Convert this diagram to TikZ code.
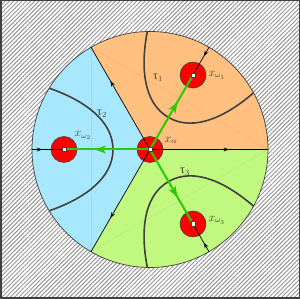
\documentclass[tikz,border=0pt]{standalone}
\usepackage{fontspec}
\newfontfamily\grkfont{Liberation Serif}
\usetikzlibrary{arrows.meta,decorations.markings,patterns.meta}
\definecolor{secorange}{RGB}{255,192,128}
\definecolor{secblue}{RGB}{168,232,255}
\definecolor{secgreen}{RGB}{192,248,128}
\definecolor{inkgray}{RGB}{64,64,64}
\definecolor{flowgreen}{RGB}{40,204,0}
\definecolor{hatchgray}{RGB}{150,150,150}

\begin{document}
\begin{tikzpicture}[x=1pt,y=1pt,
  chord/.style={draw=#1!80!black,draw opacity=.3,line width=.5pt},
  disk/.style={circle,fill=red,draw=inkgray,line width=.6pt,minimum size=26pt,inner sep=0pt},
  dot/.style={rectangle,fill=white,draw=inkgray,line width=.5pt,minimum size=4.5pt,inner sep=0pt},
  bnd/.style={line width=.7pt,postaction={decorate},
              decoration={markings,mark=at position #1 with {\arrow{Stealth[length=5.5pt,width=4pt]}}}},
  bnd/.default=.67,
  flow/.style={flowgreen,line width=2pt,postaction={decorate},
               decoration={markings,mark=at position .64 with {\arrow{Stealth[length=11pt,width=8pt,inset=3pt]}}}},
  tau/.style={inkgray,line width=1.6pt},
  lbl/.style={text=inkgray,inner sep=1pt,font=\large},
]
\useasboundingbox (0,0) rectangle (300,299);
\coordinate (c) at (150,149.5);
\foreach \a in {0,60,...,300} {\coordinate (e\a) at ([shift={(\a:118)}]c);}
% ============ sectors ============
\fill[secorange] (c) -- (e0) arc[start angle=0,end angle=120,radius=118] -- cycle;
\fill[secblue] (c) -- (e120) arc[start angle=120,end angle=240,radius=118] -- cycle;
\fill[secgreen] (c) -- (e240) arc[start angle=240,end angle=360,radius=118] -- cycle;
\draw[chord=secorange] (e0) -- (e120);
\draw[chord=secblue] (e120) -- (e240);
\draw[chord=secgreen] (e240) -- (e0);
% ============ outside ============
\fill[pattern={Lines[angle=45,distance=3pt,line width=1pt]},pattern color=hatchgray,
      even odd rule] (0,0) rectangle (300,299) (c) circle[radius=118];
\draw[inkgray,line width=.7pt] (c) circle[radius=118];
\draw[inkgray,line width=1.5pt] (.75,.75) rectangle (299.25,298.25);
% ============ level curves ============
\foreach \a in {60,180,300} {
  \begin{scope}[shift={(c)},rotate=\a]
    \draw[tau] (100.8,61.3) .. controls (68,50) and (37,30) .. (37,0)
                            .. controls (37,-30) and (68,-50) .. (100.8,-61.3);
  \end{scope}
}
% ============ states ============
\node[disk] (xa) at (c) {};
\node[disk] (w1) at ([shift={(60:86)}]c) {};
\node[disk] (w2) at ([shift={(180:86)}]c) {};
\node[disk] (w3) at ([shift={(300:86)}]c) {};
\draw[bnd] (xa.center) -- (e0);
\draw[bnd] (xa.center) -- (e120);
\draw[bnd] (xa.center) -- (e240);
\foreach \w/\a in {w1/60,w2/180,w3/300}
  \draw[bnd=.32] (e\a) -- (\w.center);
\foreach \w in {w1,w2,w3}
  \draw[flow] (xa.center) -- (\w.center);
\foreach \n in {xa,w1,w2,w3}
  \node[dot] (\n-dot) at (\n) {};
% ============ labels ============
\node[lbl,anchor=west] (w1-lab) at ([xshift=1pt]w1.east) {$x_{\omega_1}$};
\node[lbl] (w2-lab) at ([shift={(19,14)}]w2.center) {$x_{\omega_2}$};
\node[lbl,anchor=west] (w3-lab) at ([shift={(1pt,4pt)}]w3.east) {$x_{\omega_3}$};
\node[lbl] (xa-lab) at ([shift={(21,9)}]xa.center) {$x_\alpha$};
\node[lbl] (t1-lab) at (158,221) {{\grkfont τ}$_1$};
\node[lbl] (t2-lab) at (102,185) {{\grkfont τ}$_2$};
\node[lbl] (t3-lab) at (185,127) {{\grkfont τ}$_3$};
\end{tikzpicture}
\end{document}
